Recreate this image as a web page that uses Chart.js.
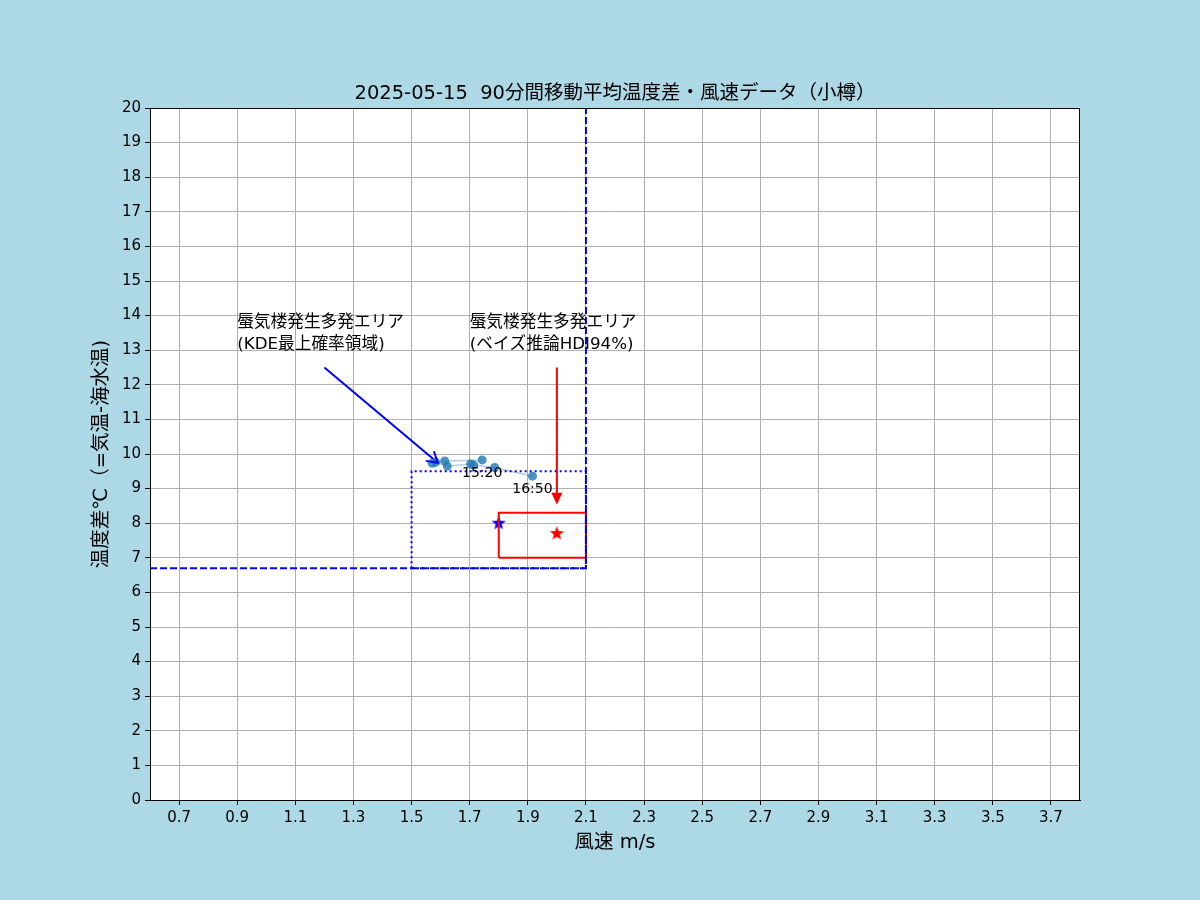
<!DOCTYPE html>
<html>
<head>
<meta charset="utf-8">
<script src="https://cdn.jsdelivr.net/npm/chart.js@4.4.1/dist/chart.umd.min.js"></script>
<style>
html, body { margin: 0; padding: 0; background: #add8e6; }
canvas { display: block; }
</style>
</head>
<body>
<canvas id="scatterChart" width="1200" height="900"></canvas>
<script>
// 目盛り
const xTicks = [0.7, 0.9, 1.1, 1.3, 1.5, 1.7, 1.9, 2.1, 2.3, 2.5, 2.7, 2.9, 3.1, 3.3, 3.5, 3.7];
const yTicks = [0, 1, 2, 3, 4, 5, 6, 7, 8, 9, 10, 11, 12, 13, 14, 15, 16, 17, 18, 19, 20];

// 90分間移動平均 (風速, 温度差)
const windSpeed = [1.743, 1.614, 1.571, 1.583, 1.623, 1.703, 1.714, 1.786, 1.916];
const tempDiff = [9.83, 9.80, 9.73, 9.76, 9.65, 9.71, 9.68, 9.61, 9.36];
const pointLabels = ['15:20', '', '', '', '', '', '', '', '16:50'];

// 領域
const kdeBoundX = [0.6, 2.1, 2.1];
const kdeBoundY = [6.7, 6.7, 20];
const kdeBoxX = [1.5, 1.5, 2.1, 2.1, 1.5];
const kdeBoxY = [6.7, 9.5, 9.5, 6.7, 6.7];
const hdiBoxX = [1.8, 1.8, 2.1, 2.1, 1.8];
const hdiBoxY = [7.0, 8.3, 8.3, 7.0, 7.0];
const kdePeak = [1.8, 8.0];
const hdiPeak = [2.0, 7.7];

// 注釈
const kdeArrow = [[1.2, 12.5], [1.59, 9.75]];
const hdiArrow = [[2.0, 12.5], [2.0, 8.53]];
const kdeText = ['蜃気楼発生多発エリア', '(KDE最上確率領域)'];
const hdiText = ['蜃気楼発生多発エリア', '(ベイズ推論HDI94%)'];
const kdeTextPos = [0.9, 13];
const hdiTextPos = [1.7, 13];

const FONT = "'DejaVu Sans', 'Noto Sans CJK JP', sans-serif";

function pts(xs, ys) {
    return xs.map(function (x, i) { return { x: x, y: ys[i] }; });
}

// 星マーカー
function makeStar(color, r) {
    var c = document.createElement('canvas');
    c.width = c.height = Math.ceil(r * 2 + 2);
    var g = c.getContext('2d');
    var cx = c.width / 2, cy = c.height / 2;
    g.beginPath();
    for (var i = 0; i < 10; i++) {
        var rr = i % 2 === 0 ? r : r * 0.42;
        var a = -Math.PI / 2 + i * Math.PI / 5;
        g.lineTo(cx + rr * Math.cos(a), cy + rr * Math.sin(a));
    }
    g.closePath();
    g.fillStyle = color;
    g.fill();
    return c;
}

const decorPlugin = {
    id: 'decor',
    beforeDraw: function (chart) {
        var ctx = chart.ctx, a = chart.chartArea;
        ctx.save();
        ctx.fillStyle = '#add8e6';
        ctx.fillRect(0, 0, chart.width, chart.height);
        ctx.fillStyle = '#ffffff';
        ctx.fillRect(a.left, a.top, a.right - a.left, a.bottom - a.top);
        ctx.restore();
    },
    afterDraw: function (chart) {
        var ctx = chart.ctx, a = chart.chartArea;
        var xs = chart.scales.x, ys = chart.scales.y;
        ctx.save();
        // 枠
        ctx.strokeStyle = '#000';
        ctx.lineWidth = 1;
        ctx.strokeRect(a.left + 0.5, a.top + 0.5, a.right - a.left - 1, a.bottom - a.top);

        // タイトル
        ctx.fillStyle = '#000';
        ctx.font = '19.5px ' + FONT;
        ctx.textAlign = 'center';
        ctx.textBaseline = 'alphabetic';
        ctx.fillText('2025-05-15  90分間移動平均温度差・風速データ（小樽）', (a.left + a.right) / 2, a.top - 9);

        // 時刻ラベル
        ctx.font = '14px ' + FONT;
        ctx.textBaseline = 'middle';
        pointLabels.forEach(function (t, i) {
            if (!t) return;
            ctx.fillText(t, xs.getPixelForValue(windSpeed[i]), ys.getPixelForValue(tempDiff[i]) + 13);
        });

        // 注釈テキスト
        ctx.font = '16.7px ' + FONT;
        ctx.textAlign = 'left';
        ctx.textBaseline = 'alphabetic';
        [[kdeText, kdeTextPos], [hdiText, hdiTextPos]].forEach(function (t) {
            var px = xs.getPixelForValue(t[1][0]), py = ys.getPixelForValue(t[1][1]);
            ctx.fillText(t[0][0], px, py - 23);
            ctx.fillText(t[0][1], px, py - 1);
        });

        // 矢印の先端
        var bx0 = xs.getPixelForValue(kdeArrow[0][0]), by0 = ys.getPixelForValue(kdeArrow[0][1]);
        var bx1 = xs.getPixelForValue(kdeArrow[1][0]), by1 = ys.getPixelForValue(kdeArrow[1][1]);
        var ang = Math.atan2(by0 - by1, bx0 - bx1);
        ctx.strokeStyle = 'blue';
        ctx.lineWidth = 2;
        ctx.beginPath();
        ctx.moveTo(bx1 + 12 * Math.cos(ang - 0.55), by1 + 12 * Math.sin(ang - 0.55));
        ctx.lineTo(bx1, by1);
        ctx.lineTo(bx1 + 12 * Math.cos(ang + 0.55), by1 + 12 * Math.sin(ang + 0.55));
        ctx.stroke();

        var rx = xs.getPixelForValue(hdiArrow[1][0]), ry = ys.getPixelForValue(hdiArrow[1][1]);
        ctx.fillStyle = 'red';
        ctx.beginPath();
        ctx.moveTo(rx, ry);
        ctx.lineTo(rx - 5.5, ry - 12);
        ctx.lineTo(rx + 5.5, ry - 12);
        ctx.closePath();
        ctx.fill();
        ctx.restore();
    }
};

window.onload = function () {
    var ctx = document.getElementById('scatterChart').getContext('2d');
    Chart.defaults.font.family = FONT;
    Chart.defaults.color = '#000';

    new Chart(ctx, {
        type: 'scatter',
        data: {
            datasets: [
                {
                    label: 'KDE境界',
                    data: pts(kdeBoundX, kdeBoundY),
                    showLine: true,
                    borderColor: 'blue',
                    borderWidth: 2,
                    borderDash: [7, 3],
                    pointRadius: 0
                },
                {
                    label: 'KDE領域',
                    data: pts(kdeBoxX, kdeBoxY),
                    showLine: true,
                    borderColor: 'blue',
                    borderWidth: 2,
                    borderDash: [2, 3],
                    pointRadius: 0
                },
                {
                    label: 'HDI領域',
                    data: pts(hdiBoxX, hdiBoxY),
                    showLine: true,
                    borderColor: 'red',
                    borderWidth: 2,
                    pointRadius: 0
                },
                {
                    label: '移動平均',
                    data: pts(windSpeed, tempDiff),
                    showLine: true,
                    borderColor: 'rgba(31, 119, 180, 0.35)',
                    borderWidth: 1.5,
                    pointRadius: 4.5,
                    pointBackgroundColor: 'rgba(31, 119, 180, 0.8)',
                    pointBorderWidth: 0
                },
                {
                    label: 'KDE矢印',
                    data: kdeArrow.map(function (p) { return { x: p[0], y: p[1] }; }),
                    showLine: true,
                    borderColor: 'blue',
                    borderWidth: 2,
                    pointRadius: 0
                },
                {
                    label: 'HDI矢印',
                    data: [{ x: hdiArrow[0][0], y: hdiArrow[0][1] }, { x: hdiArrow[1][0], y: hdiArrow[1][1] + 0.3 }],
                    showLine: true,
                    borderColor: 'red',
                    borderWidth: 2,
                    pointRadius: 0
                },
                {
                    label: 'KDEピーク',
                    data: [{ x: kdePeak[0], y: kdePeak[1] }],
                    pointStyle: makeStar('blue', 7.5)
                },
                {
                    label: 'HDIピーク',
                    data: [{ x: hdiPeak[0], y: hdiPeak[1] }],
                    pointStyle: makeStar('red', 7.5)
                }
            ]
        },
        plugins: [decorPlugin],
        options: {
            responsive: false,
            animation: false,
            layout: { padding: { top: 108, right: 120, left: 0, bottom: 0 } },
            plugins: {
                legend: { display: false },
                tooltip: { enabled: false }
            },
            scales: {
                x: {
                    type: 'linear',
                    min: 0.6,
                    max: 3.8,
                    afterFit: function (s) { s.height = 100; },
                    afterBuildTicks: function (s) { s.ticks = xTicks.map(function (v) { return { value: v }; }); },
                    ticks: {
                        font: { size: 15 },
                        padding: 4,
                        maxRotation: 0,
                        callback: function (v) { return v.toFixed(1); }
                    },
                    grid: { color: '#b0b0b0', tickColor: '#000', tickLength: 5 },
                    border: { color: '#000' },
                    title: {
                        display: true,
                        text: '風速 m/s',
                        font: { size: 19.5 },
                        padding: { top: 45, bottom: 45 }
                    }
                },
                y: {
                    type: 'linear',
                    min: 0,
                    max: 20,
                    afterFit: function (s) { s.width = 150; },
                    afterBuildTicks: function (s) { s.ticks = yTicks.map(function (v) { return { value: v }; }); },
                    ticks: {
                        font: { size: 15 },
                        padding: 4,
                        callback: function (v) { return String(v); }
                    },
                    grid: { color: '#b0b0b0', tickColor: '#000', tickLength: 5 },
                    border: { color: '#000' },
                    title: {
                        display: true,
                        text: '温度差℃（=気温-海水温)',
                        font: { size: 19.5 },
                        padding: { top: 90, bottom: 90 }
                    }
                }
            }
        }
    });
};
</script>
</body>
</html>
